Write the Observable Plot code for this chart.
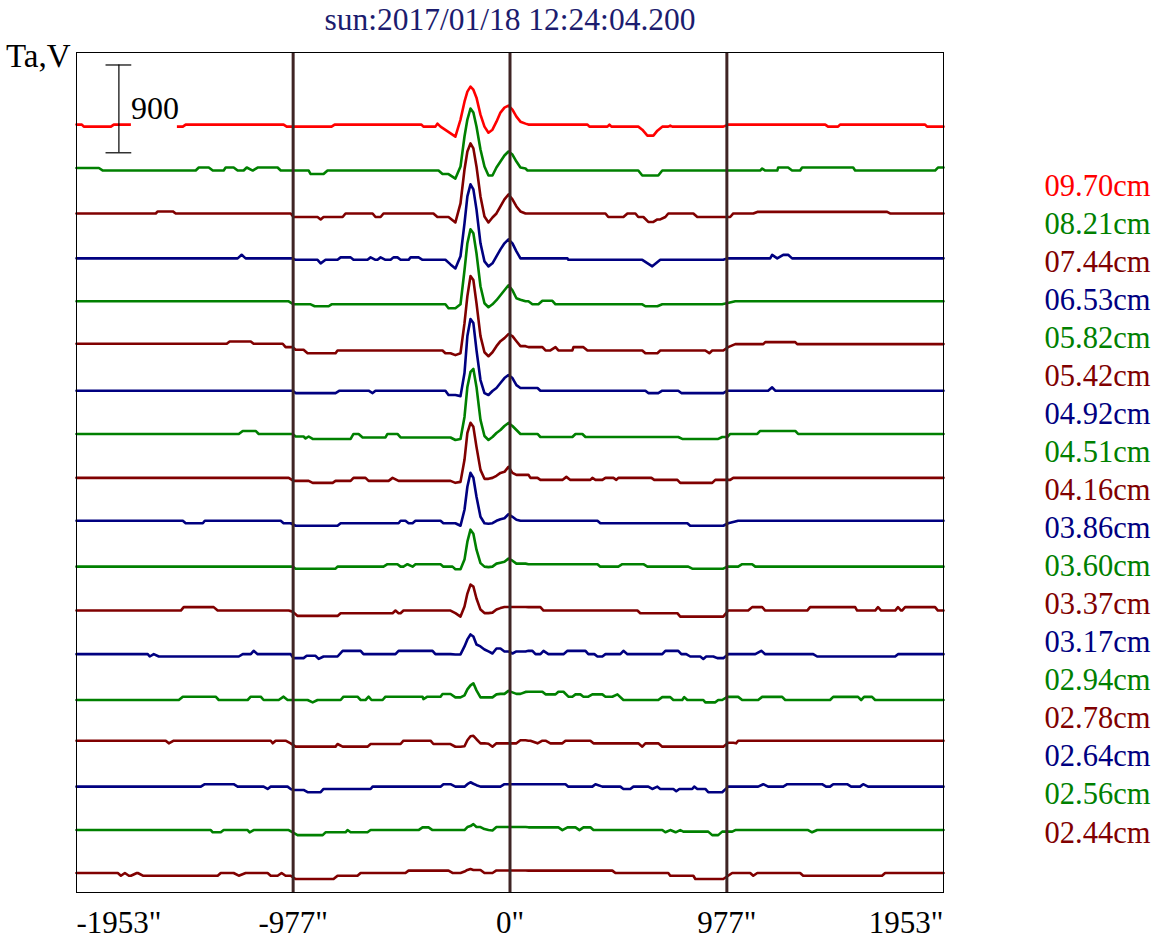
<!DOCTYPE html>
<html><head><meta charset="utf-8">
<script src="https://cdn.jsdelivr.net/npm/d3@7"></script>
<script src="https://cdn.jsdelivr.net/npm/@observablehq/plot@0.6"></script>
<style>html,body{margin:0;padding:0;background:#fff}#chart svg{display:block}</style>
</head><body><div id="chart"></div>
<script>
const title = "sun:2017/01/18 12:24:04.200";
const yLabel = "Ta,V";
const bands = ["09.70cm","08.21cm","07.44cm","06.53cm","05.82cm","05.42cm","04.92cm","04.51cm","04.16cm","03.86cm","03.60cm","03.37cm","03.17cm","02.94cm","02.78cm","02.64cm","02.56cm","02.44cm"];
const colors = ["#ff0000","#008000","#800000","#000080","#008000","#800000","#000080","#008000","#800000","#000080","#008000","#800000","#000080","#008000","#800000","#000080","#008000","#800000"];
const tickValues = [-1953, -977, 0, 977, 1953];
const tickLabels = ['-1953"', '-977"', '0"', '977"', '1953"'];
const markers = [-977, 0, 977];
const xDomain = [-1953, 1953];
const yDomain = [0, 8610];
const spacing = 450;      // Ta,V between neighbouring traces
const baseOffset = 200;   // offset of the lowest trace
const scaleBar = {x: -1762, half: 58, bottom: 7582, length: 900, label: "900"};

// arcsec positions sampled through the limb-brightening peak region
const peakX = [-246,-223,-205,-192,-178,-165,-151,-133,-115,-97,-79,-61,-43,-25,-7,11,29,47,70];

// peak values per band (Ta,V relative to the trace baseline)
const p0970 = [-103,72,256,359,410,379,297,123,0,-62,-31,51,144,195,215,174,103,51,31];
const p0821 = [-82,41,349,523,636,595,451,215,41,-51,-51,31,92,154,195,164,92,31,21];
const p0744 = [-82,113,461,646,728,677,492,185,-21,-82,-31,10,82,154,205,154,82,31,10];
const p0653 = [-103,21,359,636,759,707,502,154,-31,-82,-51,21,92,154,195,154,72,0,0];
const p0582 = [-62,-21,328,605,748,707,502,164,-10,-51,-21,21,72,123,174,123,41,26,10];
const p0542 = [-92,-72,236,513,718,677,441,103,-62,-103,-62,0,51,82,123,103,51,0,0];
const p0492 = [-51,-62,174,554,728,687,410,103,-31,-51,-10,21,72,123,154,123,51,21,21];
const p0451 = [-62,-51,174,482,636,666,482,144,-21,-62,-31,10,41,82,113,82,41,0,0];
const p0416 = [-51,-41,185,461,564,523,318,82,-10,-10,0,21,51,62,113,51,31,31,31];
const p0386 = [-15,-41,123,359,502,451,256,51,-15,-21,-15,10,26,36,77,51,21,10,10];
const p0360 = [-36,-36,62,246,369,328,164,26,-10,-15,-10,21,31,41,72,51,21,21,21];
const p0337 = [-36,-72,31,164,256,236,113,0,-36,-36,-31,0,15,26,26,26,26,26,26];
const p0317 = [-10,-10,72,144,195,174,92,72,41,21,0,51,51,21,21,0,21,21,21];
const p0294 = [0,0,21,82,123,144,72,0,0,0,0,31,36,36,67,51,36,36,56];
const p0278 = [-56,-56,-51,10,51,56,21,-21,-21,-26,-56,-21,-21,-21,-21,-21,-21,10,10];
const p0264 = [-15,-15,-15,10,30,15,0,-15,-15,-15,-15,-15,-15,10,10,10,10,10,10];
const p0256 = [-10,-10,-10,21,31,51,21,21,0,-10,-15,21,21,21,21,21,21,21,21];
const p0244 = [0,0,15,31,41,31,31,31,0,0,0,26,26,26,26,26,26,26,26];

// flat runs outside the peak region: [x start, x end, Ta,V relative to baseline]
const r0970 = [[-1953,-1929,21],[-1920,-1798,0],[-1785,-1515,21],[-1506,-1474,0],[-1461,-1020,21],[-1006,-804,0],[-790,-399,21],[-390,-336,0],[-327,-327,31],[-313,-313,0],[-286,-286,-41],
  [83,349,21],[358,439,0],[448,448,21],[457,578,0],[596,596,-31],[619,646,-92],[664,664,-41],[686,713,0],[722,722,10],[731,961,0],[983,1420,21],[1433,1478,0],[1487,1870,21],[1879,1953,0]];
const r0821 = [[-1953,-1852,26],[-1834,-1416,0],[-1402,-1357,31],[-1339,-1290,0],[-1281,-1245,31],[-1227,-1200,0],[-1186,-1186,31],[-1159,-1159,0],[-1137,-1047,31],[-1033,-907,0],[-898,-840,-36],[-822,-322,0],[-304,-277,-36],
  [79,578,0],[596,668,-51],[686,1127,0],[1136,1136,21],[1150,1204,0],[1208,1253,31],[1271,1307,0],[1316,1546,31],[1555,1915,0],[1928,1953,31]];
const r0744 = [[-1953,-1596,10],[-1587,-1519,31],[-1506,-988,10],[-975,-867,-26],[-853,-853,-51],[-840,-754,-26],[-741,-619,10],[-606,-583,-26],[-570,-345,10],[-327,-277,-26],
  [83,430,10],[443,511,-26],[529,565,10],[578,601,-26],[623,646,-77],[664,677,-51],[700,700,-26],[713,826,10],[844,992,-26],[1006,1096,10],[1114,1699,26],[1712,1953,10]];
const r0653 = [[-1953,-1227,0],[-1209,-1209,36],[-1191,-979,0],[-966,-867,-15],[-853,-853,-51],[-831,-777,-15],[-763,-718,10],[-705,-642,-15],[-628,-628,10],[-606,-597,-15],[-583,-583,10],[-561,-538,-15],[-525,-507,10],[-493,-457,-15],[-448,-412,10],[-394,-291,-15],[-268,-268,-62],
  [83,259,0],[263,596,-15],[641,641,-82],[677,961,-15],[979,1172,0],[1181,1181,36],[1204,1204,0],[1231,1253,36],[1271,1953,0]];
const r0582 = [[-1953,-997,10],[-975,-898,-21],[-880,-817,-41],[-804,-291,-21],[-277,-268,-62],
  [83,83,10],[101,128,-21],[146,191,15],[205,596,-21],[610,664,-41],[686,956,-21],[1015,1953,10]];
const r0542 = [[-1953,-1276,25],[-1263,-1168,48],[-1155,-1024,25],[-1011,-979,-10],[-966,-930,-37],[-912,-786,-72],[-777,-304,-44],[-291,-268,-72],
  [83,146,-10],[160,182,-44],[205,205,-10],[218,281,-44],[286,331,-10],[349,596,-44],[610,664,-72],[677,880,-44],[898,898,-72],[911,961,-44],[983,983,-10],[1015,1141,21],[1150,1285,41],[1294,1953,21]];
const r0492 = [[-1953,-979,-7],[-966,-786,-31],[-768,-637,-7],[-619,-619,-31],[-606,-291,-7],[-277,-277,-51],
  [83,124,21],[137,610,-7],[623,668,-31],[686,758,-7],[772,961,-31],[979,1163,-7],[1181,1181,28],[1195,1953,-7]];
const r0451 = [[-1953,-1222,0],[-1204,-1146,31],[-1132,-979,0],[-966,-930,-26],[-921,-921,-46],[-907,-907,-26],[-889,-718,-51],[-705,-682,0],[-664,-561,-36],[-552,-507,0],[-493,-268,-36],
  [83,124,0],[137,281,-31],[295,326,0],[340,758,-31],[776,938,-51],[956,979,-31],[992,1114,0],[1127,1285,31],[1298,1953,0]];
const r0416 = [[-1953,-997,0],[-975,-907,-31],[-889,-799,-51],[-786,-718,-31],[-705,-651,0],[-637,-547,-31],[-529,-529,0],[-502,-268,-31],
  [83,83,31],[92,124,0],[137,236,-21],[254,254,10],[272,362,-21],[371,371,0],[385,416,-21],[430,466,0],[479,479,-21],[488,637,0],[650,754,-21],[767,911,-51],[925,992,-21],[1006,1953,0]];
const r0386 = [[-1953,-1474,10],[-1461,-1384,-15],[-1375,-1033,10],[-1020,-988,-15],[-966,-777,-41],[-763,-502,-15],[-493,-471,10],[-457,-439,-15],[-426,-313,10],[-300,-268,-15],
  [83,394,10],[407,799,-15],[812,961,-41],[983,983,-15],[1028,1953,10]];
const r0360 = [[-1953,-979,-10],[-966,-786,-31],[-777,-570,-10],[-552,-507,15],[-493,-480,-10],[-462,-462,15],[-439,-439,-10],[-426,-313,15],[-300,-259,-10],
  [83,394,15],[407,488,-10],[506,601,15],[619,803,-10],[821,961,-31],[979,1028,-10],[1046,1091,15],[1105,1953,-10]];
const r0337 = [[-1953,-1483,-10],[-1470,-1335,25],[-1317,-997,-10],[-979,-979,-21],[-957,-777,-65],[-763,-529,-37],[-516,-516,-10],[-502,-493,-37],[-480,-268,-10],
  [83,137,25],[151,574,-10],[587,754,-37],[767,961,-72],[983,1073,-10],[1091,1136,25],[1150,1339,-10],[1352,1555,25],[1564,1645,-10],[1658,1658,25],[1672,1735,-10],[1748,1748,25],[1762,1766,-10],[1780,1915,25],[1928,1953,-10]];
const r0317 = [[-1953,-1632,-7],[-1623,-1623,-31],[-1605,-1605,-7],[-1582,-1222,-31],[-1204,-1168,-7],[-1155,-1155,27],[-1137,-988,-7],[-975,-930,-48],[-916,-876,-24],[-862,-862,-56],[-840,-777,-31],[-754,-673,27],[-660,-516,-7],[-502,-349,27],[-336,-268,-7],
  [83,101,27],[115,137,-7],[151,151,27],[173,241,-7],[259,340,27],[353,380,-7],[394,416,-31],[430,497,-7],[511,511,27],[529,686,-7],[700,758,27],[772,794,-7],[812,857,-31],[871,871,-56],[884,916,-31],[934,961,-48],[983,1105,-7],[1132,1132,27],[1150,1366,-7],[1384,1735,-31],[1748,1953,-7]];
const r0294 = [[-1953,-1492,-27],[-1474,-1326,7],[-1312,-1182,-27],[-1168,-1123,7],[-1110,-1042,-27],[-1020,-1020,7],[-1002,-912,-27],[-889,-889,-51],[-867,-763,-27],[-750,-687,7],[-673,-651,-27],[-637,-637,7],[-624,-574,-27],[-561,-394,7],[-390,-390,-17],[-372,-313,7],[-304,-268,35],
  [83,146,58],[160,205,31],[218,241,58],[263,281,7],[295,317,31],[331,353,7],[371,416,31],[430,461,7],[484,484,31],[511,668,-27],[686,722,3],[736,776,-27],[785,785,3],[799,871,-27],[880,925,-51],[938,956,-27],[979,1028,5],[1046,1118,-27],[1136,1226,5],[1240,1442,-27],[1456,1568,5],[1582,1582,-27],[1595,1631,5],[1645,1953,-27]];
const r0278 = [[-1953,-1551,6],[-1537,-1537,-21],[-1515,-1078,6],[-1069,-1069,-21],[-1056,-1011,6],[-988,-988,-21],[-966,-786,-55],[-777,-777,-28],[-754,-642,-55],[-628,-493,-28],[-480,-358,6],[-345,-268,-28],
  [83,92,6],[124,124,-21],[146,160,6],[182,236,-21],[250,362,6],[376,578,-21],[596,596,-55],[610,668,-21],[686,961,-55],[983,1006,-15],[1019,1019,-21],[1028,1953,6]];
const r0264 = [[-1953,-1393,-15],[-1375,-1245,10],[-1227,-1110,-15],[-1092,-1092,-39],[-1078,-1002,-15],[-988,-988,-39],[-975,-930,-49],[-912,-853,-72],[-840,-628,-39],[-619,-313,-15],[-300,-268,10],
  [83,250,10],[263,371,-15],[385,385,10],[416,497,-15],[511,542,-39],[556,623,-15],[641,641,-39],[664,664,-15],[677,736,-39],[749,749,-62],[763,821,-39],[830,830,-15],[844,880,-39],[893,956,-72],[983,1118,-15],[1141,1141,10],[1163,1231,-15],[1249,1406,10],[1424,1442,-15],[1456,1519,10],[1537,1577,-15],[1591,1591,10],[1613,1953,-15]];
const r0256 = [[-1953,-1348,-10],[-1339,-1303,-33],[-1290,-1182,-10],[-1173,-1173,-33],[-1155,-997,-10],[-979,-979,-33],[-957,-844,-62],[-831,-741,-33],[-732,-732,-10],[-718,-642,-33],[-628,-412,-10],[-394,-367,18],[-349,-268,-10],
  [83,218,18],[236,236,-10],[259,295,18],[313,313,-10],[331,362,18],[376,686,-10],[700,700,-33],[722,722,-10],[746,746,-33],[767,767,-10],[781,893,-26],[911,938,-62],[956,1001,-26],[1015,1343,-10],[1361,1361,-33],[1384,1953,-10]];
const r0244 = [[-1953,-1767,0],[-1753,-1753,-28],[-1735,-1735,0],[-1717,-1708,-28],[-1681,-1677,0],[-1654,-1317,-28],[-1303,-1245,0],[-1222,-1222,-28],[-1191,-1092,0],[-1078,-1047,-28],[-1029,-1029,0],[-1011,-988,-28],[-966,-795,-62],[-777,-687,-28],[-673,-471,0],[-457,-277,24],[-259,-259,0],
  [83,461,24],[475,713,0],[722,826,-28],[835,961,-62],[1001,1082,0],[1096,1096,-28],[1114,1307,0],[1321,1676,-28],[1690,1953,0]];

const runsList = [r0970,r0821,r0744,r0653,r0582,r0542,r0492,r0451,r0416,r0386,r0360,r0337,r0317,r0294,r0278,r0264,r0256,r0244];
const peakList = [p0970,p0821,p0744,p0653,p0582,p0542,p0492,p0451,p0416,p0386,p0360,p0337,p0317,p0294,p0278,p0264,p0256,p0244];

function tracePoints(runs, peak, offset) {
  const pts = [];
  for (const [x0, x1, v] of runs) {
    pts.push({x: x0, y: offset + v});
    if (x1 !== x0) pts.push({x: x1, y: offset + v});
  }
  peakX.forEach((x, j) => pts.push({x, y: offset + peak[j]}));
  pts.sort((a, b) => a.x - b.x);
  return pts;
}

const n = bands.length;
const traceMarks = bands.map((b, i) => {
  const offset = baseOffset + spacing * (n - 1 - i);
  return Plot.line(tracePoints(runsList[i], peakList[i], offset), {x: "x", y: "y", stroke: colors[i], strokeWidth: 2.6});
});

const legendMarks = bands.map((b, i) => Plot.text([b], {
  frameAnchor: "top-right", textAnchor: "start", lineAnchor: "bottom",
  dx: 101, dy: 143 + 38.06 * i, fill: colors[i], fontSize: 30.5
}));

const chart = Plot.plot({
  width: 1155, height: 941,
  marginLeft: 76, marginRight: 212, marginTop: 52, marginBottom: 49,
  x: {domain: xDomain, axis: null},
  y: {domain: yDomain, axis: null},
  style: {fontFamily: "'Liberation Serif', 'Times New Roman', serif", background: "white", overflow: "visible"},
  marks: [
    ...traceMarks,
    Plot.text([scaleBar], {x: "x", y: d => d.bottom + d.length / 2, text: "label", textAnchor: "start", lineAnchor: "middle", dx: 12, fontSize: 32, fill: "black"}),
    Plot.ruleX([scaleBar], {x: "x", y1: "bottom", y2: d => d.bottom + d.length, stroke: "black", strokeWidth: 1.2}),
    Plot.ruleY([scaleBar.bottom, scaleBar.bottom + scaleBar.length], {y: d => d, x1: scaleBar.x - scaleBar.half, x2: scaleBar.x + scaleBar.half, stroke: "black", strokeWidth: 1.2}),
    Plot.ruleX(markers, {x: d => d, stroke: "#3f2424", strokeWidth: 3}),
    Plot.frame({stroke: "black", strokeWidth: 1}),
    Plot.text([title], {frameAnchor: "top", lineAnchor: "bottom", dy: -23, fontSize: 31.5, fill: "#1c1c6e"}),
    Plot.text([yLabel], {frameAnchor: "top-left", textAnchor: "end", lineAnchor: "bottom", dx: -6, dy: 14, fontSize: 33, fill: "black"}),
    Plot.text([tickValues[0]], {x: d => d, text: () => tickLabels[0], frameAnchor: "bottom", textAnchor: "start", lineAnchor: "bottom", dy: 40, fontSize: 31, fill: "black"}),
    Plot.text(tickValues.slice(1, 4), {x: d => d, text: (d, i) => tickLabels[i + 1], frameAnchor: "bottom", textAnchor: "middle", lineAnchor: "bottom", dy: 40, fontSize: 31, fill: "black"}),
    Plot.text([tickValues[4]], {x: d => d, text: () => tickLabels[4], frameAnchor: "bottom", textAnchor: "end", lineAnchor: "bottom", dy: 40, fontSize: 31, fill: "black"}),
    ...legendMarks
  ]
});
document.getElementById("chart").appendChild(chart);

// white background behind the scale-bar label (masks the trace under it)
chart.querySelectorAll("text").forEach(t => {
  if (t.textContent === scaleBar.label) {
    const bb = t.getBBox();
    const r = document.createElementNS("http://www.w3.org/2000/svg", "rect");
    r.setAttribute("x", bb.x);
    r.setAttribute("y", bb.y);
    r.setAttribute("width", bb.width - 2);
    r.setAttribute("height", bb.height + 6);
    r.setAttribute("fill", "white");
    const tr = t.getAttribute("transform");
    if (tr) r.setAttribute("transform", tr);
    t.parentNode.insertBefore(r, t);
  }
});
</script>
</body></html>
